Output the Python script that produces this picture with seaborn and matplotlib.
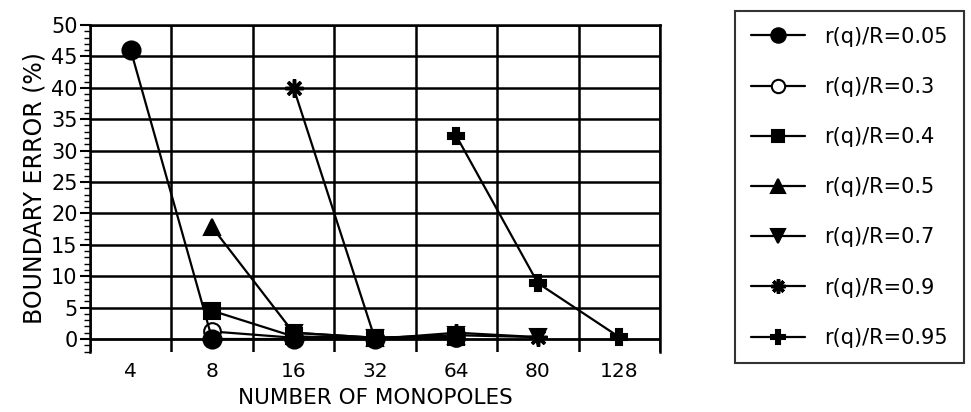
import numpy as np
import pandas as pd
import matplotlib
matplotlib.use("Agg")
import matplotlib.pyplot as plt
from matplotlib.ticker import MultipleLocator
import seaborn as sns

# ---- data ----
monopoles = ["4", "8", "16", "32", "64", "80", "128"]

r005_x = ["4", "8", "16", "32"]
r005_y = [46.0, 0.0, 0.0, 0.0]

r03_x = ["8", "16", "32", "64"]
r03_y = [1.2, 0.2, 0.1, 0.2]

r04_x = ["8", "16", "32", "64"]
r04_y = [4.5, 0.4, 0.2, 0.3]

r05_x = ["8", "16", "32", "64"]
r05_y = [17.8, 1.0, 0.2, 0.5]

r07_x = ["16", "32", "64", "80"]
r07_y = [1.0, 0.2, 0.6, 0.3]

r09_x = ["16", "32", "64", "80"]
r09_y = [40.0, 0.0, 1.0, 0.3]

r095_x = ["64", "80", "128"]
r095_y = [32.3, 8.9, 0.3]

labels = ["r(q)/R=0.05", "r(q)/R=0.3", "r(q)/R=0.4", "r(q)/R=0.5",
          "r(q)/R=0.7", "r(q)/R=0.9", "r(q)/R=0.95"]

series = [
    (r005_x, r005_y, dict(marker="o", markersize=13, markerfacecolor="black", zorder=5)),
    (r03_x, r03_y, dict(marker="o", markersize=12, markerfacecolor="white", zorder=4)),
    (r04_x, r04_y, dict(marker="s", markersize=11, markerfacecolor="black", zorder=6)),
    (r05_x, r05_y, dict(marker="^", markersize=12, markerfacecolor="black", zorder=7)),
    (r07_x, r07_y, dict(marker="v", markersize=12, markerfacecolor="black", zorder=9)),
    (r09_x, r09_y, dict(marker=(8, 2, 0), markersize=13, markerfacecolor="black",
                        markeredgewidth=2.5, zorder=8)),
    (r095_x, r095_y, dict(marker="P", markersize=12, markerfacecolor="black", zorder=10)),
]

sns.set_theme(style="white")
plt.rcParams["font.family"] = ["DejaVu Sans"]
plt.rcParams["text.color"] = "black"

fig = plt.figure(figsize=(9.71, 4.12), dpi=100)
ax = fig.add_axes([90 / 971, 1 - 352 / 412, (660 - 90) / 971, (352 - 25) / 412])

pos = {m: i for i, m in enumerate(monopoles)}
for (xs, ys, style), lab in zip(series, labels):
    df = pd.DataFrame({"x": [pos[v] for v in xs], "y": ys})
    kw = dict(markeredgecolor="black", markeredgewidth=1.5)
    kw.update(style)
    sns.lineplot(data=df, x="x", y="y", ax=ax, color="black", linewidth=1.6,
                 label=lab, clip_on=False, **kw)

ax.set_xlim(-0.5, len(monopoles) - 0.5)
ax.set_ylim(-2.07, 50)

# vertical grid at category boundaries
ax.set_xticks(np.arange(len(monopoles) + 1) - 0.5)
ax.set_xticklabels([])
ax.set_xticks(np.arange(len(monopoles)), minor=True)
ax.set_xticklabels(monopoles, minor=True)
ax.tick_params(axis="x", which="major", length=0)
ax.tick_params(axis="x", which="minor", length=0, pad=7, labelsize=14.5, colors="black")
ax.grid(True, axis="x", which="major", color="black", linewidth=1.8)

ax.set_yticks(np.arange(0, 51, 5))
ax.yaxis.set_minor_locator(MultipleLocator(1))
ax.tick_params(axis="y", which="major", direction="out", length=7, width=1.5,
               labelsize=15, pad=2, colors="black", left=True)
ax.tick_params(axis="y", which="minor", direction="out", length=4, width=1.0,
               colors="black", left=True)
for yv in np.arange(0, 51, 5):
    ax.axhline(yv, color="black", linewidth=2.0 if yv == 0 else 1.8, zorder=1)

for side in ["left", "right", "top"]:
    ax.spines[side].set_visible(True)
    ax.spines[side].set_color("black")
    ax.spines[side].set_linewidth(1.8)
ax.spines["bottom"].set_visible(False)

ax.set_xlabel("NUMBER OF MONOPOLES", fontsize=15.5, labelpad=5, color="black")
ax.set_ylabel("BOUNDARY ERROR (%)", fontsize=17, labelpad=3, color="black")

handles, labs = ax.get_legend_handles_labels()
if ax.get_legend() is not None:
    ax.get_legend().remove()
leg = ax.legend(handles, labs, loc="upper left",
                bbox_to_anchor=(735 / 971, 1 - 11 / 412),
                bbox_transform=fig.transFigure,
                fontsize=15, frameon=True, fancybox=False,
                labelspacing=1.45, handlelength=2.6, handletextpad=0.95,
                borderpad=0.75, borderaxespad=0, labelcolor="black")
leg.get_frame().set_edgecolor("black")
leg.get_frame().set_linewidth(1.5)
leg.get_frame().set_facecolor("white")
for h in leg.legend_handles:
    h.set_markersize(h.get_markersize() * 0.8)

fig.savefig("out.png", dpi=100)
